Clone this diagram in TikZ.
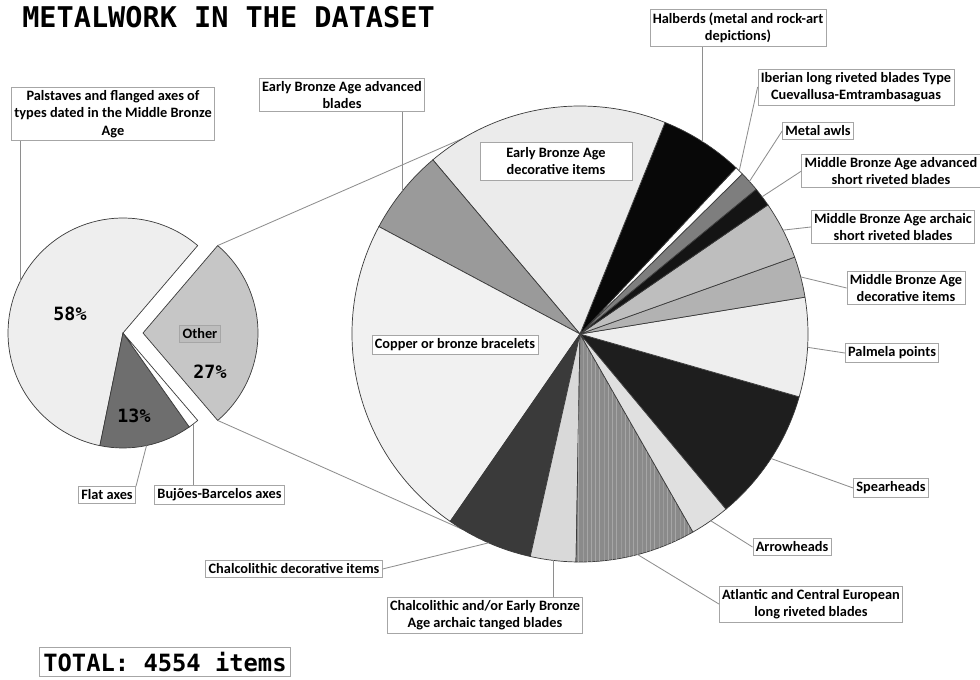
\documentclass[tikz,border=0pt]{standalone}
\usepackage{fontspec}
\setmainfont{Carlito}
\newfontfamily\consfont{DejaVu Sans Mono}
\usepackage{tikz}
\usetikzlibrary{calc,positioning,patterns}

\definecolor{boxgray}{HTML}{A6A6A6}
\definecolor{ldrgray}{HTML}{8E8E8E}
\definecolor{edgegray}{HTML}{3A3A3A}
\definecolor{axpale}{HTML}{EEEEEE}
\definecolor{axflat}{HTML}{6E6E6E}
\definecolor{axother}{HTML}{C6C6C6}
\definecolor{otherbox}{HTML}{BDBDBD}
\definecolor{cspear}{HTML}{1E1E1E}
\definecolor{cpalm}{HTML}{EEEEEE}
\definecolor{cmbadec}{HTML}{B2B2B2}
\definecolor{cmbaarc}{HTML}{BEBEBE}
\definecolor{cmbaadv}{HTML}{141414}
\definecolor{cawl}{HTML}{7E7E7E}
\definecolor{chalb}{HTML}{080808}
\definecolor{cebadec}{HTML}{EBEBEB}
\definecolor{cebaadv}{HTML}{9A9A9A}
\definecolor{ccopper}{HTML}{F1F1F1}
\definecolor{cchaldec}{HTML}{3A3A3A}
\definecolor{ctang}{HTML}{D9D9D9}
\definecolor{catl}{HTML}{8A8A8A}
\definecolor{carrow}{HTML}{E0E0E0}

\begin{document}
\begin{tikzpicture}[x=0.025cm,y=0.025cm,
		slc/.style={draw=edgegray,line width=0.5pt},
		lbl/.style={draw=boxgray,fill=white,line width=0.6pt,align=center,inner xsep=2pt,inner ysep=2.2pt,
			font={\fontsize{10.2}{12.4}\selectfont\bfseries}},
		pct/.style={font={\consfont\bfseries\fontsize{13}{15}\selectfont}},
		ldr/.style={draw=ldrgray,line width=0.6pt}]
		\useasboundingbox (0,0) rectangle (980,679);
		\coordinate (S) at (123,346);
		\coordinate (O) at ($(S)+(20,0)$);
		\coordinate (B) at (580,345);

		\node[anchor=base west,inner sep=0pt,font={\consfont\bfseries\fontsize{20.3}{24}\selectfont}] (title) at (22,651) {METALWORK IN THE DATASET};

		\filldraw[slc,fill=axpale] (S) -- ($(S)+(49.5:115)$) arc[start angle=49.5,end angle=258.4,radius=115] -- cycle;
		\filldraw[slc,fill=axflat] (S) -- ($(S)+(258.4:115)$) arc[start angle=258.4,end angle=305.2,radius=115] -- cycle;
		\filldraw[slc,fill=white] (S) -- ($(S)+(305.2:115)$) arc[start angle=305.2,end angle=310.5,radius=115] -- cycle;
		\filldraw[slc,fill=axother] (O) -- ($(O)+(-49.5:115)$) arc[start angle=-49.5,end angle=49.5,radius=115] -- cycle;

		\coordinate (ot) at ($(O)+(49.5:115)$);
		\coordinate (ob) at ($(O)+(-49.5:115)$);
		\coordinate (bt) at ($(B)+(121:228)$);
		\coordinate (bb) at ($(B)+(-121:228)$);
		\draw[ldr] (ot) -- (bt) (ob) -- (bb);

		\filldraw[slc,fill=cspear] (B) -- ($(B)+(-50.2:228)$) arc[start angle=-50.2,end angle=-16,radius=228] -- cycle;
		\filldraw[slc,fill=cpalm] (B) -- ($(B)+(-16:228)$) arc[start angle=-16,end angle=9.3,radius=228] -- cycle;
		\filldraw[slc,fill=cmbadec] (B) -- ($(B)+(9.3:228)$) arc[start angle=9.3,end angle=19.7,radius=228] -- cycle;
		\filldraw[slc,fill=cmbaarc] (B) -- ($(B)+(19.7:228)$) arc[start angle=19.7,end angle=34.5,radius=228] -- cycle;
		\filldraw[slc,fill=cmbaadv] (B) -- ($(B)+(34.5:228)$) arc[start angle=34.5,end angle=39.4,radius=228] -- cycle;
		\filldraw[slc,fill=cawl] (B) -- ($(B)+(39.4:228)$) arc[start angle=39.4,end angle=44.6,radius=228] -- cycle;
		\filldraw[slc,fill=white] (B) -- ($(B)+(44.6:228)$) arc[start angle=44.6,end angle=46.8,radius=228] -- cycle;
		\filldraw[slc,fill=chalb] (B) -- ($(B)+(46.8:228)$) arc[start angle=46.8,end angle=68.1,radius=228] -- cycle;
		\filldraw[slc,fill=cebadec] (B) -- ($(B)+(68.1:228)$) arc[start angle=68.1,end angle=130.2,radius=228] -- cycle;
		\filldraw[slc,fill=cebaadv] (B) -- ($(B)+(130.2:228)$) arc[start angle=130.2,end angle=151.9,radius=228] -- cycle;
		\filldraw[slc,fill=ccopper] (B) -- ($(B)+(151.9:228)$) arc[start angle=151.9,end angle=235.3,radius=228] -- cycle;
		\filldraw[slc,fill=cchaldec] (B) -- ($(B)+(235.3:228)$) arc[start angle=235.3,end angle=257.4,radius=228] -- cycle;
		\filldraw[slc,fill=ctang] (B) -- ($(B)+(257.4:228)$) arc[start angle=257.4,end angle=269,radius=228] -- cycle;
		\filldraw[slc,fill=catl,postaction={pattern=vertical lines,pattern color=black!35}] (B) -- ($(B)+(269:228)$) arc[start angle=269,end angle=299.7,radius=228] -- cycle;
		\filldraw[slc,fill=carrow] (B) -- ($(B)+(299.7:228)$) arc[start angle=299.7,end angle=309.8,radius=228] -- cycle;

		\node[pct] (p58) at (70,365) {58\%};
		\node[pct] (p13) at (134,263) {13\%};
		\node[lbl,fill=otherbox] (oth) at (200,345) {Other};
		\node[pct] (p27) at (210,307) {27\%};

		\node[lbl] (pal) at (113,565) {Palstaves and flanged axes of\\types dated in the Middle Bronze\\Age};
		\node[lbl] (fla) at (107,184) {Flat axes};
		\node[lbl,right=13pt of fla] (buj) {Bujões-Barcelos axes};
		\node[lbl] (eba) at (342,584) {Early Bronze Age advanced\\blades};
		\node[lbl,minimum width=108pt,minimum height=27pt] (ebd) at (556,518) {Early Bronze Age\\decorative items};
		\node[lbl] (cop) at (455,334) {Copper or bronze bracelets};
		\node[lbl] (hal) at (738,651) {Halberds (metal and rock-art\\depictions)};
		\node[lbl] (ibe) at (856,592) {Iberian long riveted blades Type\\Cuevallusa-Emtrambasaguas};
		\node[lbl] (awl) at (818,548) {Metal awls};
		\node[lbl] (mad) at (891,508) {Middle Bronze Age advanced\\short riveted blades};
		\node[lbl] (mar) at (893,452) {Middle Bronze Age archaic\\short riveted blades};
		\node[lbl] (mdc) at (906,391) {Middle Bronze Age\\decorative items};
		\node[lbl] (pmp) at (892,326) {Palmela points};
		\node[lbl] (spe) at (891,191) {Spearheads};
		\node[lbl] (arr) at (792,132) {Arrowheads};
		\node[lbl] (atl) at (811,75) {Atlantic and Central European\\long riveted blades};
		\node[lbl] (tan) at (485,64) {Chalcolithic and/or Early Bronze\\Age archaic tanged blades};
		\node[lbl] (chd) at (294,110) {Chalcolithic decorative items};

		\coordinate (pa) at ($(S)+(153.5:115)$);
		\coordinate (fa) at ($(S)+(281.8:115)$);
		\coordinate (ba) at ($(S)+(307.8:115)$);
		\draw[ldr] (pa) -- (pa |- pal.south);
		\draw[ldr] (fa) -- (fla.north east);
		\draw[ldr] (ba) -- (ba |- buj.north);

		\coordinate (ea) at ($(B)+(141:228)$);
		\coordinate (ha) at ($(B)+(57.45:228)$);
		\coordinate (ia) at ($(B)+(45.7:228)$);
		\coordinate (wa) at ($(B)+(42:228)$);
		\coordinate (da) at ($(B)+(37:228)$);
		\coordinate (ra) at ($(B)+(27.1:228)$);
		\coordinate (ma) at ($(B)+(14.5:228)$);
		\coordinate (la) at ($(B)+(-3.35:228)$);
		\coordinate (sa) at ($(B)+(-33.1:228)$);
		\coordinate (aa) at ($(B)+(-55:228)$);
		\coordinate (ta) at ($(B)+(-75.35:228)$);
		\coordinate (ga) at ($(B)+(-96.8:228)$);
		\coordinate (ca) at ($(B)+(-113.65:228)$);
		\draw[ldr] (ea) -- (ea |- eba.south);
		\draw[ldr] (ha) -- (ha |- hal.south);
		\draw[ldr] (ia) -- (ibe.west);
		\draw[ldr] (wa) -- (awl.west);
		\draw[ldr] (da) -- (mad.west);
		\draw[ldr] (ra) -- (mar.west);
		\draw[ldr] (ma) -- (mdc.west);
		\draw[ldr] (la) -- (pmp.west);
		\draw[ldr] (sa) -- (spe.west);
		\draw[ldr] (aa) -- (arr.west);
		\draw[ldr] (ta) -- (atl.west);
		\draw[ldr] (ga) -- (ga |- tan.north);
		\draw[ldr] (ca) -- (chd.east);

		\node[draw=boxgray,line width=0.6pt,inner xsep=2.5pt,inner ysep=3.5pt,font={\consfont\bfseries\fontsize{16.9}{20}\selectfont}] (total) at (165,17) {TOTAL: 4554 items};
	\end{tikzpicture}
\end{document}
